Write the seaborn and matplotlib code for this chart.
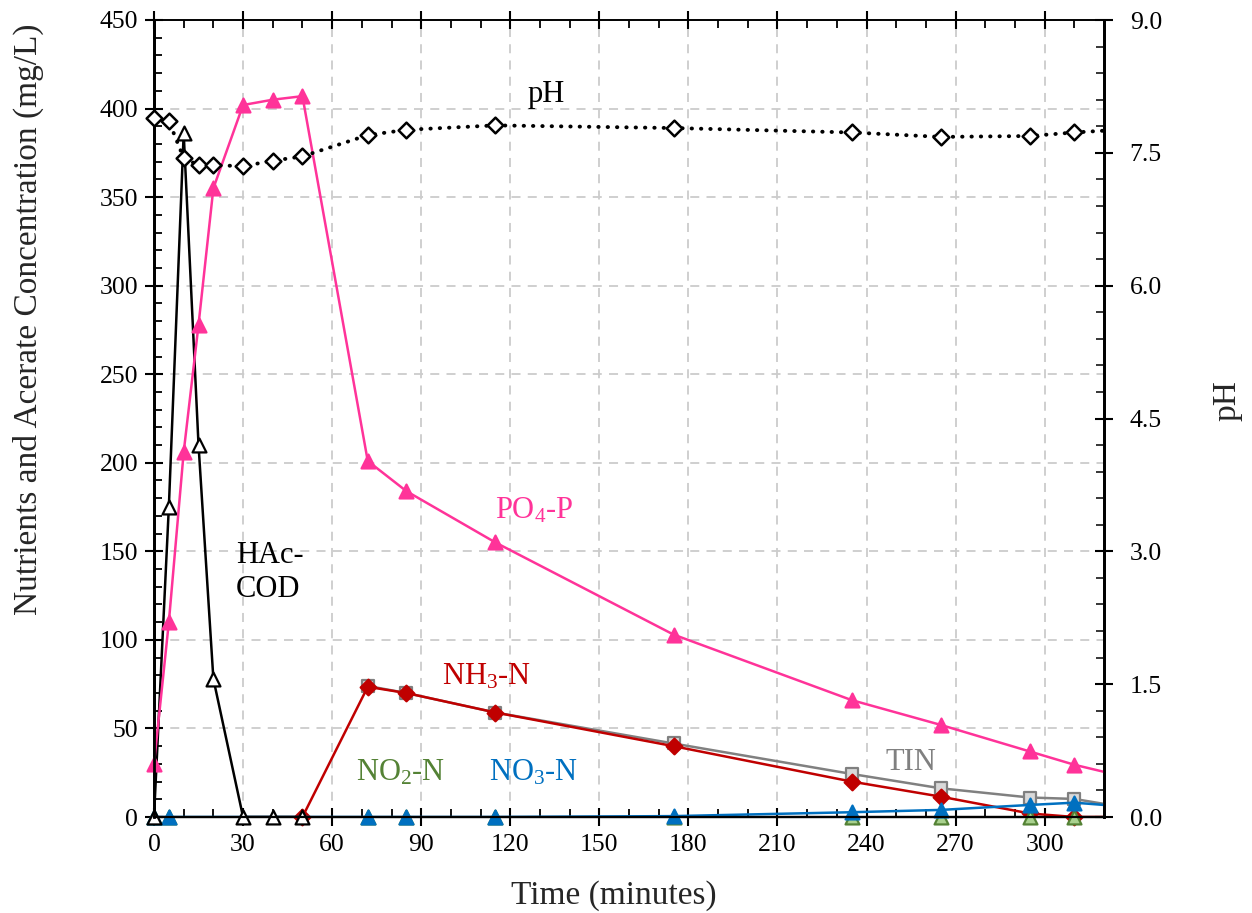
import numpy as np
import pandas as pd
import matplotlib
matplotlib.use("Agg")
import matplotlib.pyplot as plt
import seaborn as sns
from matplotlib.ticker import MultipleLocator, FormatStrFormatter

# ---------------- data ----------------
hac_t = [0, 5, 10, 15, 20, 30, 40, 50]
hac = [0, 175, 386, 210, 78, 0, 0, 0]

po4_t = [0, 5, 10, 15, 20, 30, 40, 50, 72, 85, 115, 175, 235, 265, 295, 310, 330]
po4 = [30, 110, 206, 278, 355, 402, 405, 407, 201, 184, 155, 103, 66, 52, 37, 29.5, 21.5]

ph_t = [0, 5, 10, 15, 20, 30, 40, 50, 72, 85, 115, 175, 235, 265, 295, 310, 330]
ph = [7.89, 7.86, 7.44, 7.36, 7.36, 7.35, 7.41, 7.46, 7.70, 7.76, 7.81, 7.78, 7.73, 7.68, 7.69, 7.73, 7.77]

nh3_t = [50, 72, 85, 115, 175, 235, 265, 295, 310, 330]
nh3 = [0, 73.5, 70, 59, 40, 20, 11.5, 2, 0, 0]

tin_t = [72, 85, 115, 175, 235, 265, 295, 310, 330]
tin = [74, 70, 59, 41.5, 24.3, 16.2, 11, 10.2, 4.6]

no3_t = [0, 5, 72, 85, 115, 175, 235, 265, 295, 310, 330]
no3 = [0, 0, 0, 0, 0, 0.5, 2.7, 4, 6.8, 8.1, 5.5]

no2_t = [0, 5, 72, 85, 115, 175, 235, 265, 295, 310, 330]
no2 = [0, 0, 0, 0, 0, 0, 0, 0, 0, 0, 0]

x_ticks = [0, 30, 60, 90, 120, 150, 180, 210, 240, 270, 300]
XMAX = 320

# ---------------- style ----------------
sns.set_theme(style="white")
plt.rcParams['font.family'] = ['Liberation Serif', 'DejaVu Serif']
plt.rcParams['mathtext.fontset'] = 'custom'
plt.rcParams['mathtext.rm'] = 'Liberation Serif'
plt.rcParams['mathtext.default'] = 'regular'

FS_TICK = 18.5
FS_LAB = 24
FS_ANN = 22
fig = plt.figure(figsize=(12.52, 9.13), dpi=100)
ax = fig.add_axes([154 / 1252, 1 - 817 / 913, (1104 - 154) / 1252, (817 - 20) / 913])
ax2 = ax.twinx()

PINK = '#FF3399'
RED = '#C00000'
GRAY = '#808080'
BLUE = '#0070C0'
GREEN = '#548235'
LGREEN = '#A9D18E'


def series(axis, t, y, color, marker, ms, mfc, mec, z, lw=1.8, ls='-'):
    df = pd.DataFrame({'t': t, 'y': y})
    sns.lineplot(data=df, x='t', y='y', ax=axis, color=color, lw=lw,
                 linestyle=ls, zorder=z, sort=False, estimator=None,
                 legend=False)
    dm = df[df['t'] <= XMAX]
    sns.scatterplot(data=dm, x='t', y='y', ax=axis, marker=marker, s=ms ** 2,
                    color=mfc, edgecolor=mec, linewidth=1.6, zorder=z + 0.5,
                    clip_on=False, legend=False)


series(ax, tin_t, tin, GRAY, 's', 9, '#D9D9D9', GRAY, 3)
series(ax, nh3_t, nh3, RED, 'D', 8, RED, RED, 4)
series(ax, no2_t, no2, GREEN, '^', 10, LGREEN, GREEN, 5)
series(ax, no3_t, no3, BLUE, '^', 10, BLUE, BLUE, 6)
series(ax, hac_t, hac, 'black', '^', 10, 'white', 'black', 7)
series(ax, po4_t, po4, PINK, '^', 10, PINK, PINK, 8)

# pH on secondary axis
dph = pd.DataFrame({'t': ph_t, 'y': ph})
sns.lineplot(data=dph, x='t', y='y', ax=ax2, color='black', lw=2.8,
             linestyle=(0, (0.1, 2.3)), dash_capstyle='round', zorder=3,
             sort=False, estimator=None, legend=False)
sns.scatterplot(data=dph[dph['t'] <= XMAX], x='t', y='y', ax=ax2, marker='D',
                s=64, color='white', edgecolor='black', linewidth=1.8,
                zorder=4, clip_on=False, legend=False)

# ---------------- axes ----------------
ax.set_xlim(0, XMAX)
ax.set_ylim(0, 450)
ax2.set_ylim(0, 9)
ax.set_xticks(x_ticks)
ax.xaxis.set_minor_locator(MultipleLocator(10))
ax.yaxis.set_major_locator(MultipleLocator(50))
ax.yaxis.set_minor_locator(MultipleLocator(10))
ax2.yaxis.set_major_locator(MultipleLocator(1.5))
ax2.yaxis.set_minor_locator(MultipleLocator(0.3))
ax2.yaxis.set_major_formatter(FormatStrFormatter('%.1f'))

ax.grid(True, which='major', color='#CCCCCC', linestyle=(0, (5, 4)), lw=1.3)
ax.set_axisbelow(True)

for a in (ax, ax2):
    for s in a.spines.values():
        s.set_color('black')
    a.spines['left'].set_linewidth(2.0)
    a.spines['right'].set_linewidth(2.0)
    a.spines['bottom'].set_linewidth(1.6)
    a.spines['top'].set_linewidth(1.2)

ax.tick_params(axis='both', which='major', direction='inout', length=13,
               width=1.5, labelsize=FS_TICK, colors='black')
ax.tick_params(axis='x', which='major', pad=6)
ax.tick_params(axis='y', which='major', pad=5)
ax.tick_params(axis='both', which='minor', direction='in', length=5.5,
               width=1.3, colors='black')
ax.tick_params(axis='x', which='both', top=True, bottom=True)
ax.tick_params(axis='y', which='both', left=True, right=False)
ax2.tick_params(axis='y', which='major', direction='inout', length=13,
                width=1.5, labelsize=FS_TICK, colors='black', pad=12,
                right=True)
ax2.tick_params(axis='y', which='minor', direction='in', length=5.5,
                width=1.3, right=True)

ax.set_xlabel('Time (minutes)', fontsize=FS_LAB)
ax.xaxis.set_label_coords(0.484, -0.079)
ax.set_ylabel('Nutrients and Acerate Concentration (mg/L)', fontsize=FS_LAB)
ax.yaxis.set_label_coords(-0.1158, 0.624)
ax2.set_ylabel('pH', fontsize=FS_LAB)
ax2.yaxis.set_label_coords(1.114, 0.523)

# annotations
ax.text(132, 408, 'pH', fontsize=FS_ANN, color='black', ha='center',
        va='center')
ax.text(27.5, 138, 'HAc-\nCOD', fontsize=FS_ANN, color='black', ha='left',
        va='center', linespacing=1.25)
ax.text(128, 173, r'PO$_4$-P', fontsize=FS_ANN, color=PINK, ha='center',
        va='center')
ax.text(112, 79, r'NH$_3$-N', fontsize=FS_ANN, color=RED, ha='center',
        va='center')
ax.text(83, 25, r'NO$_2$-N', fontsize=FS_ANN, color=GREEN, ha='center',
        va='center')
ax.text(128, 25, r'NO$_3$-N', fontsize=FS_ANN, color=BLUE, ha='center',
        va='center')
ax.text(255, 30.5, 'TIN', fontsize=FS_ANN, color=GRAY, ha='center',
        va='center')

fig.savefig('out.png', dpi=100)
